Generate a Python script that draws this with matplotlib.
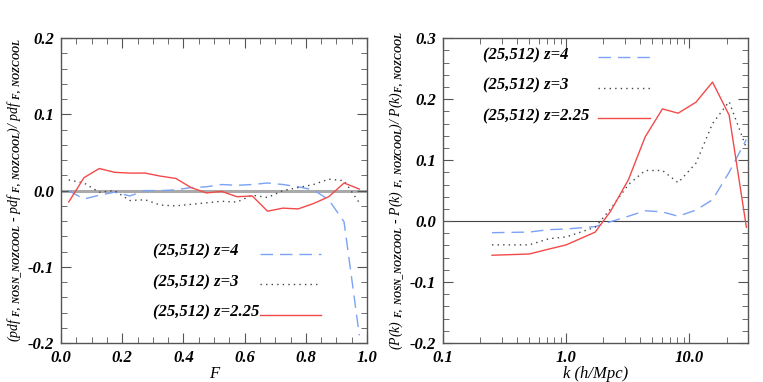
import matplotlib
matplotlib.use("Agg")
import matplotlib.pyplot as plt
from matplotlib.ticker import MultipleLocator, FixedLocator, FixedFormatter, NullFormatter, LogLocator
import numpy as np

plt.rcParams['font.family'] = 'Liberation Serif'
plt.rcParams['font.weight'] = 'bold'
plt.rcParams['font.style'] = 'italic'
plt.rcParams['mathtext.fontset'] = 'custom'
plt.rcParams['mathtext.rm'] = 'Liberation Serif:bold:italic'
plt.rcParams['mathtext.it'] = 'Liberation Serif:bold:italic'
plt.rcParams['mathtext.bf'] = 'Liberation Serif:bold:italic'

'''left panel: flux pdf differences'''
F = [0.025, 0.075, 0.125, 0.175, 0.225, 0.275, 0.325, 0.375, 0.425, 0.475,
     0.525, 0.575, 0.625, 0.675, 0.725, 0.775, 0.825, 0.875, 0.925, 0.975]
pdf_z4 = [0.000, -0.011, -0.006, -0.002, -0.007, 0.000, 0.000, 0.001, 0.004, 0.005,
          0.008, 0.007, 0.008, 0.010, 0.008, 0.005, 0.001, -0.012, -0.041, -0.190]
pdf_z3 = [0.014, 0.010, -0.002, 0.000, -0.013, -0.012, -0.019, -0.020, -0.018, -0.016,
          -0.014, -0.015, -0.006, -0.009, 0.000, 0.004, 0.008, 0.015, 0.013, -0.016]
pdf_z225 = [-0.015, 0.017, 0.029, 0.024, 0.023, 0.023, 0.019, 0.016, 0.004, -0.003,
            -0.001, -0.008, -0.007, -0.027, -0.023, -0.024, -0.017, -0.008, 0.010, 0.002]

'''right panel: flux power differences'''
k = [0.25, 0.5, 0.72, 1.0, 1.72, 2.29, 3.2, 4.37, 6.04, 8.1, 11.3, 15.4, 21.0, 29.0]
pk_z4 = [-0.019, -0.018, -0.014, -0.013, -0.009, -0.001, 0.008, 0.017, 0.015, 0.008,
         0.018, 0.035, 0.080, 0.134]
pk_z3 = [-0.039, -0.039, -0.029, -0.026, -0.010, 0.020, 0.060, 0.083, 0.083, 0.063,
         0.095, 0.160, 0.196, 0.120]
pk_z225 = [-0.056, -0.054, -0.046, -0.039, -0.018, 0.016, 0.068, 0.138, 0.184, 0.177,
           0.195, 0.228, 0.174, -0.010]

labels = ['(25,512) z=4', '(25,512) z=3', '(25,512) z=2.25']
colors = ['#7aa2f5', '#444444', '#f24a4a']
styles = [(0, (9, 5)), (0, (1, 3)), '-']

fig = plt.figure(figsize=(7.63, 3.82), dpi=100)
ax1 = fig.add_axes([0.080, 0.102, 0.401, 0.798])
ax2 = fig.add_axes([0.5806, 0.102, 0.400, 0.798])

frame = '#555555'
for ax in (ax1, ax2):
    for s in ax.spines.values():
        s.set_color(frame)
        s.set_linewidth(1.0)
    ax.tick_params(which='both', direction='in', top=True, right=True, color=frame,
                   labelsize=12, pad=5)
    ax.tick_params(which='major', length=7)
    ax.tick_params(which='minor', length=4)

'''left'''
ax1.axhline(0, color='#aaaaaa', lw=2.2, zorder=1)
for y, c, ls in zip([pdf_z4, pdf_z3, pdf_z225], colors, styles):
    ax1.plot(F, y, color=c, ls=ls, lw=1.0)
ax1.set_xlim(0, 1)
ax1.set_ylim(-0.2, 0.2)
ax1.xaxis.set_major_locator(MultipleLocator(0.2))
ax1.xaxis.set_minor_locator(MultipleLocator(0.05))
ax1.yaxis.set_major_locator(MultipleLocator(0.1))
ax1.yaxis.set_minor_locator(MultipleLocator(0.02))
ax1.xaxis.set_major_formatter(lambda v, p: '%.1f' % v)
ax1.yaxis.set_major_formatter(lambda v, p: ('%.1f' % (0 if abs(v) < 1e-9 else v)))
ax1.set_xlabel('F', fontsize=12, labelpad=0)
ax1.set_ylabel(r'(pdf $_{\rm F,\ NOSN\_NOZCOOL}$ - pdf $_{\rm F,\ NOZCOOL}$)/ pdf $_{\rm F,\ NOZCOOL}$',
               fontsize=10, labelpad=3)
for i, (lab, c, ls) in enumerate(zip(labels, colors, styles)):
    yy = -0.080 - 0.040 * i
    ax1.text(0.30, yy, lab, fontsize=12, ha='left', va='center')
    ax1.plot([0.65, 0.85], [yy - 0.003, yy - 0.003], color=c, ls=ls, lw=1.0)

'''right'''
ax2.axhline(0, color='#444444', lw=0.8, zorder=1)
for y, c, ls in zip([pk_z4, pk_z3, pk_z225], colors, styles):
    ax2.plot(k, y, color=c, ls=ls, lw=1.0)
ax2.set_xscale('log')
ax2.set_xlim(0.1, 30)
ax2.set_ylim(-0.2, 0.3)
ax2.xaxis.set_major_locator(FixedLocator([0.1, 1.0, 10.0]))
ax2.xaxis.set_major_formatter(FixedFormatter(['0.1', '1.0', '10.0']))
ax2.xaxis.set_minor_locator(LogLocator(base=10, subs=np.arange(2, 10)))
ax2.xaxis.set_minor_formatter(NullFormatter())
ax2.yaxis.set_major_locator(MultipleLocator(0.1))
ax2.yaxis.set_minor_locator(MultipleLocator(0.02))
ax2.yaxis.set_major_formatter(lambda v, p: ('%.1f' % (0 if abs(v) < 1e-9 else v)))
ax2.set_xlabel('k (h/Mpc)', fontsize=12, labelpad=0)
ax2.set_ylabel(r'(P(k) $_{\rm F,\ NOSN\_NOZCOOL}$ - P(k) $_{\rm F,\ NOZCOOL}$)/ P(k)$_{\rm F,\ NOZCOOL}$',
               fontsize=10, labelpad=3)
for i, (lab, c, ls) in enumerate(zip(labels, colors, styles)):
    yy = 0.272 - 0.050 * i
    ax2.text(0.21, yy, lab, fontsize=12, ha='left', va='center')
    ax2.plot([1.8, 4.8], [yy - 0.003, yy - 0.003], color=c, ls=ls, lw=1.0)

fig.savefig('out.png', dpi=100)
